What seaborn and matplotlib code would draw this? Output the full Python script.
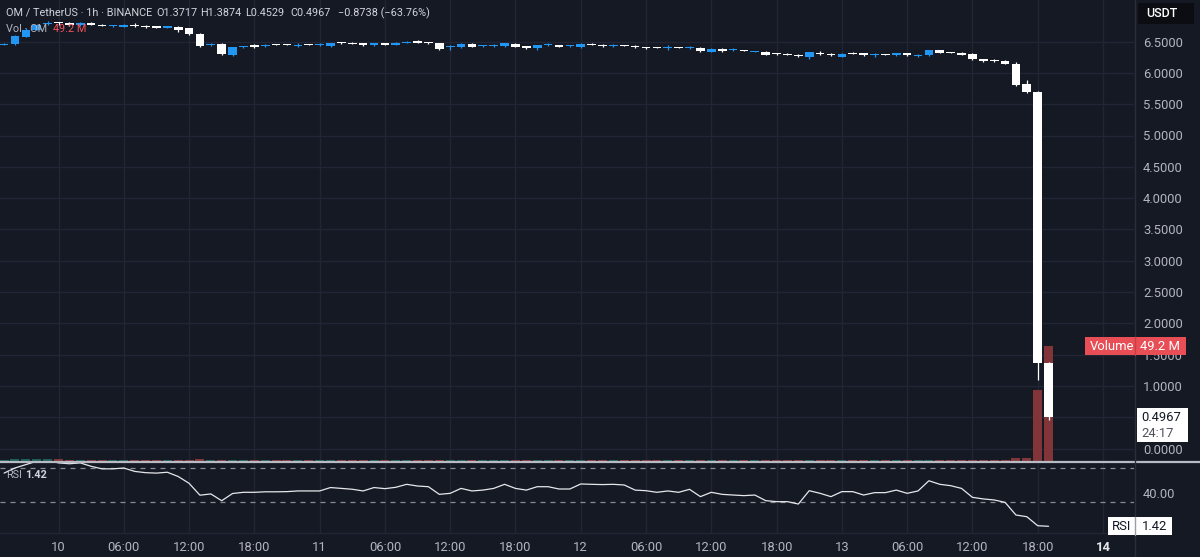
import numpy as np
import pandas as pd
import matplotlib
matplotlib.use("Agg")
import matplotlib.pyplot as plt
from matplotlib.patches import Rectangle
from matplotlib.lines import Line2D
import seaborn as sns

# ---------------- data ----------------
hours = list(range(-5, 92))  # hours since day 10 00:00

opens = [6.45, 6.46, 6.58, 6.69, 6.78, 6.80, 6.79, 6.76, 6.80, 6.765,
         6.745, 6.74, 6.765, 6.745, 6.735, 6.725, 6.74, 6.71, 6.62, 6.45,
         6.46, 6.29, 6.41, 6.43, 6.43, 6.455, 6.455, 6.435, 6.455, 6.445,
         6.43, 6.485, 6.475, 6.47, 6.44, 6.47, 6.45, 6.48, 6.495, 6.485,
         6.47, 6.41, 6.41, 6.46, 6.425, 6.425, 6.43, 6.46, 6.415, 6.39,
         6.445, 6.44, 6.425, 6.41, 6.455, 6.445, 6.435, 6.445, 6.43, 6.405,
         6.405, 6.395, 6.405, 6.395, 6.40, 6.34, 6.38, 6.365, 6.365, 6.335,
         6.34, 6.305, 6.295, 6.285, 6.25, 6.32, 6.30, 6.26, 6.315, 6.31,
         6.285, 6.295, 6.28, 6.31, 6.275, 6.28, 6.36, 6.325, 6.32, 6.30,
         6.22, 6.20, 6.19, 6.15, 5.82, 5.70, 1.3717]
highs = [6.48, 6.60, 6.72, 6.78, 6.83, 6.82, 6.81, 6.82, 6.81, 6.78,
         6.76, 6.78, 6.79, 6.76, 6.74, 6.74, 6.75, 6.72, 6.63, 6.48,
         6.47, 6.42, 6.43, 6.46, 6.46, 6.46, 6.46, 6.47, 6.46, 6.47,
         6.48, 6.50, 6.49, 6.48, 6.48, 6.48, 6.49, 6.51, 6.52, 6.50,
         6.48, 6.44, 6.47, 6.47, 6.44, 6.46, 6.48, 6.47, 6.42, 6.45,
         6.48, 6.45, 6.44, 6.47, 6.47, 6.46, 6.46, 6.45, 6.44, 6.42,
         6.41, 6.44, 6.42, 6.43, 6.41, 6.39, 6.39, 6.40, 6.37, 6.35,
         6.35, 6.31, 6.31, 6.30, 6.34, 6.35, 6.31, 6.32, 6.33, 6.32,
         6.31, 6.30, 6.32, 6.32, 6.30, 6.37, 6.37, 6.33, 6.33, 6.31,
         6.23, 6.23, 6.21, 6.17, 5.89, 5.71, 1.3874]
lows = [6.44, 6.45, 6.57, 6.68, 6.76, 6.77, 6.75, 6.75, 6.76, 6.75,
        6.74, 6.73, 6.73, 6.72, 6.72, 6.72, 6.65, 6.61, 6.42, 6.43,
        6.29, 6.27, 6.40, 6.40, 6.42, 6.44, 6.44, 6.42, 6.44, 6.43,
        6.42, 6.46, 6.46, 6.43, 6.43, 6.44, 6.44, 6.47, 6.48, 6.46,
        6.37, 6.36, 6.40, 6.41, 6.42, 6.41, 6.42, 6.41, 6.38, 6.37,
        6.43, 6.41, 6.42, 6.40, 6.44, 6.42, 6.42, 6.43, 6.40, 6.38,
        6.39, 6.37, 6.39, 6.38, 6.34, 6.33, 6.34, 6.35, 6.35, 6.33,
        6.28, 6.29, 6.28, 6.26, 6.23, 6.29, 6.27, 6.25, 6.30, 6.27,
        6.26, 6.28, 6.27, 6.27, 6.26, 6.27, 6.31, 6.31, 6.28, 6.21,
        6.18, 6.17, 6.14, 5.79, 5.68, 1.09, 0.4529]
closes = [6.46, 6.59, 6.69, 6.76, 6.79, 6.79, 6.77, 6.79, 6.77, 6.755,
          6.755, 6.77, 6.755, 6.735, 6.725, 6.735, 6.69, 6.62, 6.43, 6.46,
          6.30, 6.41, 6.42, 6.42, 6.44, 6.445, 6.445, 6.445, 6.445, 6.455,
          6.47, 6.475, 6.465, 6.44, 6.47, 6.45, 6.48, 6.50, 6.485, 6.475,
          6.38, 6.42, 6.46, 6.42, 6.435, 6.435, 6.47, 6.42, 6.405, 6.44,
          6.455, 6.42, 6.435, 6.46, 6.445, 6.435, 6.445, 6.435, 6.41, 6.395,
          6.395, 6.405, 6.395, 6.405, 6.35, 6.38, 6.35, 6.375, 6.355, 6.345,
          6.29, 6.295, 6.285, 6.275, 6.33, 6.30, 6.28, 6.30, 6.305, 6.28,
          6.295, 6.285, 6.31, 6.28, 6.285, 6.36, 6.32, 6.315, 6.29, 6.22,
          6.19, 6.19, 6.15, 5.80, 5.69, 1.3705, 0.4967]
volume_m = [0.5, 0.9, 0.7, 0.8, 0.9, 0.8, 0.5, 0.5, 0.45, 0.4,
            0.35, 0.4, 0.35, 0.35, 0.35, 0.35, 0.4, 0.5, 0.9, 0.5,
            0.6, 0.5, 0.35, 0.35, 0.35, 0.35, 0.35, 0.35, 0.35, 0.35,
            0.4, 0.35, 0.35, 0.35, 0.35, 0.35, 0.35, 0.35, 0.35, 0.35,
            0.45, 0.4, 0.35, 0.35, 0.35, 0.35, 0.35, 0.35, 0.35, 0.35,
            0.35, 0.35, 0.35, 0.35, 0.35, 0.35, 0.35, 0.35, 0.35, 0.35,
            0.35, 0.35, 0.35, 0.35, 0.4, 0.35, 0.35, 0.35, 0.35, 0.35,
            0.4, 0.35, 0.35, 0.35, 0.4, 0.35, 0.35, 0.35, 0.35, 0.35,
            0.35, 0.35, 0.35, 0.35, 0.35, 0.4, 0.35, 0.35, 0.35, 0.4,
            0.4, 0.4, 0.5, 1.1, 1.4, 30.4, 49.2]
rsi = [64, 70, 74, 78, 79, 76, 75, 76, 72, 69,
       69, 70, 66, 64.5, 64, 65, 60, 52, 38, 39.5,
       31.5, 40, 41.4, 41.4, 42, 42, 42.2, 43, 43, 43,
       47, 46, 45, 43, 47, 45.7, 47.3, 50.8, 48.8, 48,
       39, 40.2, 46, 43, 44, 46, 50.8, 46, 44, 48,
       48, 45.3, 45.3, 51.2, 50.8, 50.5, 50.8, 50, 44, 43.3,
       41.4, 43, 41.4, 44.9, 36.3, 41.4, 39, 38.2, 37.5, 38.2,
       31.6, 30.4, 30.4, 27.6, 43.3, 40.2, 36.3, 42.2, 42.2, 38.2,
       41, 41, 44, 40.2, 43, 55, 50.8, 49.2, 46, 35.5,
       33.6, 32.4, 29.6, 14.7, 12.7, 2.1, 1.42]

tick_hours = [0, 6, 12, 18, 24, 30, 36, 42, 48, 54, 60, 66, 72, 78, 84, 90, 96]
tick_labels = ["10", "06:00", "12:00", "18:00", "11", "06:00", "12:00", "18:00",
               "12", "06:00", "12:00", "18:00", "13", "06:00", "12:00", "18:00", "14"]
price_ticks = [0.0, 0.5, 1.0, 1.5, 2.0, 2.5, 3.0, 3.5, 4.0, 4.5, 5.0, 5.5, 6.0, 6.5]
rsi_bands = [70, 30]
rsi_ticks = [40]

# ---------------- style ----------------
sns.set_theme(style="dark")
FONT = ["Roboto", "DejaVu Sans"]
plt.rcParams["font.family"] = FONT

BG = "#151924"
GRID = "#222634"
TXT = "#b2b5be"
TXT2 = "#d1d4dc"
UP = "#2196f3"
DOWN = "#ffffff"
VUP = "#1c5e58"
VDOWN = "#823539"
RED = "#e84e55"

W, H = 1200, 557
fig = plt.figure(figsize=(12, 5.57), dpi=100)
fig.patch.set_facecolor(BG)

XL = (-58.5 / 10.88, (1134 - 58.5) / 10.88)
main_rect = [0, (H - 461) / H, 1134 / W, 461 / H]
rsi_rect = [0, (H - 533) / H, 1134 / W, (533 - 462) / H]
PY = ((448.5 - 461) / 62.6, 448.5 / 62.6)

# grid layer
axg = fig.add_axes(main_rect)
axg.set_facecolor(BG)
axg.set_xlim(*XL)
axg.set_ylim(*PY)
for xt in tick_hours:
    axg.axvline(xt, color=GRID, lw=1)
for p in price_ticks:
    axg.axhline(p, color=GRID, lw=1)
axg.set_xticks([]); axg.set_yticks([])
for s in axg.spines.values():
    s.set_visible(False)

# volume layer
axv = fig.add_axes(main_rect)
axv.set_facecolor("none")
df = pd.DataFrame({"t": hours, "vol": volume_m,
                   "dir": ["up" if c >= o else "down" for o, c in zip(opens, closes)]})
sns.barplot(data=df, x="t", y="vol", hue="dir", native_scale=True, dodge=False,
            palette={"up": VUP, "down": VDOWN}, width=0.83, errorbar=None,
            saturation=1, legend=False, orient="x", ax=axv, linewidth=0)
axv.set_xlim(*XL)
axv.set_ylim(0, 49.2 * 461 / 115)
axv.set_xticks([]); axv.set_yticks([])
axv.set_xlabel(""); axv.set_ylabel("")
for s in axv.spines.values():
    s.set_visible(False)

# candle layer
ax = fig.add_axes(main_rect)
ax.set_facecolor("none")
min_body = 0.018
for t, o, h, l, c in zip(hours, opens, highs, lows, closes):
    col = UP if c >= o else DOWN
    ax.vlines(t, l, h, color=col, lw=0.9, zorder=2)
    ax.bar(t, max(abs(c - o), min_body), bottom=min(o, c), width=0.8,
           color=col, linewidth=0, zorder=3)
ax.set_xlim(*XL)
ax.set_ylim(*PY)
ax.set_xticks([])
ax.yaxis.tick_right()
ax.set_yticks(price_ticks)
ax.set_yticklabels([f"{p:.4f}" for p in price_ticks])
ax.tick_params(axis="y", length=0, pad=6.5, labelsize=9.4, labelcolor=TXT)
for s in ax.spines.values():
    s.set_visible(False)

# RSI pane
axr = fig.add_axes(rsi_rect)
axr.set_facecolor(BG)
axr.set_xlim(*XL)
axr.set_ylim(70 - (533 - 468) / 0.85, 70 + (468 - 462) / 0.85)
for xt in tick_hours:
    axr.axvline(xt, color=GRID, lw=1, zorder=0)
for b in rsi_bands:
    axr.axhline(b, color="#8a8d96", lw=0.9, ls=(0, (4, 4)), zorder=1)
sns.lineplot(x=hours, y=rsi, ax=axr, color="#e6e7eb", linewidth=0.9, zorder=3)
axr.yaxis.tick_right()
axr.set_yticks(rsi_ticks)
axr.set_yticklabels([f"{v:.2f}" for v in rsi_ticks])
axr.tick_params(axis="y", length=0, pad=6.5, labelsize=9.4, labelcolor=TXT)
axr.set_xticks(tick_hours)
axr.set_xticklabels(tick_labels)
axr.tick_params(axis="x", length=0, pad=6, labelsize=9.4, labelcolor=TXT)
lbls = axr.get_xticklabels()
lbls[-1].set_color("#e6e7eb")
lbls[-1].set_fontweight("bold")
for s in axr.spines.values():
    s.set_visible(False)

# pane separators
fig.add_artist(Line2D([0, 1], [(H - 461.5) / H] * 2, color="#b8bbc3", lw=1.6, transform=fig.transFigure))
fig.add_artist(Line2D([1134.5 / W] * 2, [0, 1], color="#2a2e3a", lw=1, transform=fig.transFigure))
fig.add_artist(Line2D([0, 1134 / W], [(H - 533) / H] * 2, color=GRID, lw=1, transform=fig.transFigure))

def box(x0, x1, yc, h, color, z=6):
    fig.add_artist(Rectangle((x0 / W, (yc - h / 2) / H), (x1 - x0) / W, h / H,
                             transform=fig.transFigure, facecolor=color,
                             edgecolor="none", zorder=z))

def txt(x, yc, s, color, size=9.4, weight="normal", ha="left", z=7):
    fig.text(x / W, yc / H, s, color=color, fontsize=size, fontweight=weight,
             ha=ha, va="center", zorder=z, family=FONT)

fig.canvas.draw()
def ypix(axis, v):
    return axis.transData.transform((0, v))[1]

# USDT box
box(1138, 1194, H - 13.5, 21, "#0b0d12")
txt(1146, H - 13.5, "USDT", "#ffffff", 9, "medium")

# volume label
yv = ypix(axv, volume_m[-1])
box(1085, 1186, yv, 18, RED)
fig.add_artist(Line2D([1134.5 / W] * 2, [(yv - 9) / H, (yv + 9) / H], color="#c83e45",
                      lw=1, transform=fig.transFigure, zorder=7))
txt(1090, yv, "Volume", "#ffffff", 9.4)
txt(1140, yv, f"{volume_m[-1]:.1f} M", "#ffffff", 9.4)

# last price label
yp = ypix(ax, closes[-1])
box(1137, 1188, yp - 7.5, 34, "#ffffff")
txt(1141, yp, f"{closes[-1]:.4f}", "#131722", 9.4)
txt(1141, yp - 16, "24:17", "#50535e", 9.4)

# RSI label
yr = ypix(axr, rsi[-1])
box(1108, 1172, yr, 18, "#ffffff")
fig.add_artist(Line2D([1134.5 / W] * 2, [(yr - 9) / H, (yr + 9) / H], color="#9a9da6",
                      lw=1, transform=fig.transFigure, zorder=7))
txt(1112, yr, "RSI", "#131722", 9.4)
txt(1142, yr, f"{rsi[-1]:.2f}", "#131722", 9.4)

# header legend
HS = 7.8
change = closes[-1] - closes[-2]
pct = change / closes[-2] * 100
y1 = H - 13
txt(6, y1, "OM / TetherUS · 1h · BINANCE", TXT2, HS)
txt(156, y1, f"O{opens[-1]:.4f}", TXT2, HS)
txt(200, y1, f"H{highs[-1]:.4f}", TXT2, HS)
txt(245, y1, f"L{lows[-1]:.4f}", TXT2, HS)
txt(290, y1, f"C{closes[-1]:.4f}", TXT2, HS)
txt(338, y1, f"\u2212{abs(change):.4f} (\u2212{abs(pct):.2f}%)", TXT2, HS)
y2 = H - 29.5
txt(6, y2, "Vol · OM", TXT, HS)
txt(53, y2, f"{volume_m[-1]:.1f} M", "#f7525f", HS)

# RSI legend
txt(6, H - 474.5, "RSI", TXT, HS)
txt(25, H - 474.5, f"{rsi[-1]:.2f}", TXT2, HS, "bold")

fig.savefig("out.png", dpi=100, facecolor=BG)
